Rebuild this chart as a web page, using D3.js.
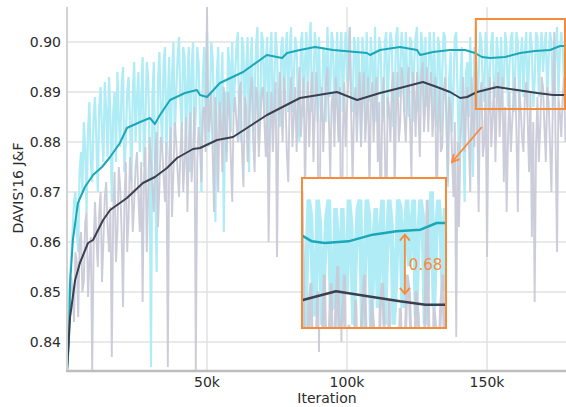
<!DOCTYPE html>
<html>
<head>
<meta charset="utf-8">
<style>
  body { margin: 0; background: #fff; }
  text { font-family: "DejaVu Sans", Verdana, sans-serif; fill: #2b2b2b; }
  .grid line { stroke: #e2e2e2; stroke-width: 1.5px; }
  .raw { fill: none; stroke-linejoin: bevel; }
  .smooth { fill: none; stroke-width: 2px; stroke-linejoin: round; }
</style>
</head>
<body>
<div id="chart"></div>
<script src="https://cdn.jsdelivr.net/npm/d3@7"></script>
<script>
// raw evaluation scores at every 1k iterations (0k .. 178k)
var cyanRaw = [
  .834,.852,.862,.870,.858,.878,.884,.866,.888,.872,
  .889,.870,.891,.876,.886,.893,.868,.890,.894,.879,
  .895,.880,.893,.872,.896,.889,.878,.897,.884,.893,
  .835,.896,.854,.898,.879,.899,.888,.875,.900,.890,
  .901,.882,.897,.892,.874,.900,.886,.896,.870,.899,
  .902,.884,.897,.864,.899,.890,.862,.878,.896,.900,
  .893,.902,.880,.899,.895,.874,.901,.890,.903,.885,
  .900,.896,.879,.902,.891,.898,.883,.901,.897,.886,
  .903,.893,.899,.880,.902,.896,.888,.904,.890,.899,
  .901,.884,.898,.903,.889,.900,.895,.881,.902,.897,
  .892,.903,.886,.899,.901,.880,.897,.902,.888,.896,
  .903,.891,.899,.884,.902,.896,.900,.887,.903,.894,
  .898,.902,.885,.900,.896,.903,.889,.899,.901,.892,
  .897,.902,.883,.899,.894,.901,.871,.898,.890,.902,
  .876,.899,.868,.896,.901,.873,.897,.893,.900,.888,
  .899,.894,.902,.889,.897,.901,.891,.899,.895,.902,
  .893,.900,.897,.889,.902,.896,.899,.892,.901,.898,
  .894,.902,.897,.900,.891,.903,.898,.899,.901
];
// raw scores at the half steps (0.5k .. 177.5k)
var cyanRawMid = [
  .848,.857,.868,.862,.874,.870,.879,.882,.876,.885,
  .880,.887,.882,.892,.877,.885,.886,.876,.885,.891,
  .874,.890,.884,.890,.880,.894,.889,.875,.896,.878,
  .889,.873,.892,.886,.896,.877,.897,.893,.881,.897,
  .888,.899,.879,.899,.895,.880,.899,.884,.893,.885,
  .879,.900,.887,.893,.881,.898,.890,.899,.882,.886,
  .899,.884,.901,.883,.901,.896,.882,.899,.880,.902,
  .885,.901,.897,.884,.902,.885,.899,.887,.902,.898,
  .886,.901,.886,.900,.885,.902,.899,.886,.902,.884,
  .887,.899,.884,.893,.902,.884,.902,.898,.886,.902,
  .900,.887,.901,.885,.891,.901,.884,.893,.901,.884,
  .884,.901,.886,.900,.885,.902,.883,.901,.889,.902,
  .886,.893,.901,.884,.901,.886,.902,.885,.887,.902,
  .885,.892,.901,.882,.902,.886,.893,.882,.901,.889,
  .892,.881,.894,.885,.889,.899,.882,.902,.891,.902,
  .887,.900,.889,.901,.886,.893,.902,.887,.901,.886,
  .902,.886,.901,.898,.887,.902,.887,.902,.889,.902,
  .899,.888,.902,.887,.899,.889,.902,.891
];
var grayRaw = [
  .834,.846,.850,.858,.845,.862,.852,.866,.856,.834,
  .868,.855,.870,.860,.872,.858,.837,.874,.862,.871,
  .847,.876,.865,.873,.868,.878,.862,.848,.879,.870,
  .876,.866,.882,.871,.879,.868,.835,.883,.874,.880,
  .869,.884,.876,.866,.886,.878,.834,.883,.872,.887,
  .907,.885,.878,.889,.870,.884,.891,.876,.887,.868,
  .889,.880,.892,.871,.887,.883,.893,.874,.889,.884,
  .891,.877,.860,.890,.886,.857,.894,.880,.889,.872,
  .893,.885,.878,.895,.887,.870,.892,.889,.876,.894,
  .838,.891,.886,.895,.873,.890,.893,.880,.840,.892,
  .887,.903,.872,.891,.888,.879,.894,.885,.869,.892,
  .889,.876,.862,.893,.860,.887,.891,.870,.894,.884,
  .892,.880,.895,.873,.890,.894,.877,.896,.888,.882,
  .894,.886,.862,.891,.879,.893,.872,.887,.869,.841,
  .863,.886,.878,.891,.870,.884,.903,.866,.892,.880,
  .857,.893,.885,.876,.894,.888,.872,.866,.890,.884,
  .893,.866,.887,.878,.892,.874,.861,.848,.889,.883,
  .891,.876,.888,.870,.902,.858,.886,.889,.880
];
var grayRawMid = [
  .841,.853,.844,.856,.860,.850,.864,.849,.861,.859,
  .861,.866,.852,.869,.863,.867,.866,.856,.875,.862,
  .868,.858,.877,.862,.875,.869,.876,.873,.858,.881,
  .871,.878,.863,.881,.873,.880,.877,.865,.884,.874,
  .878,.870,.885,.879,.872,.887,.876,.880,.886,.878,
  .882,.890,.866,.882,.888,.874,.883,.890,.877,.886,
  .884,.890,.878,.889,.876,.890,.880,.891,.877,.890,
  .884,.890,.882,.878,.892,.883,.887,.893,.878,.888,
  .879,.891,.888,.881,.893,.886,.879,.894,.886,.887,
  .884,.878,.892,.885,.888,.879,.887,.891,.881,.879,
  .893,.885,.887,.880,.894,.889,.880,.893,.887,.880,
  .893,.888,.884,.879,.889,.880,.894,.886,.880,.895,
  .885,.891,.884,.894,.881,.886,.893,.882,.895,.890,
  .881,.893,.884,.878,.890,.884,.889,.878,.884,.880,
  .880,.893,.887,.880,.893,.879,.885,.889,.877,.891,
  .885,.879,.892,.888,.881,.893,.887,.881,.878,.889,
  .882,.890,.881,.889,.885,.890,.884,.879,.876,.893,
  .883,.891,.879,.888,.879,.889,.881,.893
];

// smoothed curves (iteration in k, value)
var cyanSmoothIter = [0,0.7,1.1,2.1,3.9,6.4,9.3,12.5,15.4,18.9,21.4,26.1,29.6,31.4,33.2,36.8,42.1,46.4,47.5,50,54.6,62.9,71.4,76.8,78.6,83.2,88.6,95,107.1,108.2,111.8,118.9,125,126.1,130.7,136.8,142.1,145.7,148.2,151.1,156.4,161.8,167.1,172.5,176.1,178.2];
var cyanSmooth = [.834,.840,.8518,.8604,.8678,.871,.8734,.875,.877,.8798,.8828,.884,.8848,.8836,.8854,.8884,.8898,.8904,.8894,.889,.8918,.894,.8974,.8968,.8978,.8984,.899,.8984,.8978,.8974,.8984,.899,.8984,.8974,.898,.8984,.8984,.8978,.897,.8968,.897,.8978,.8982,.8984,.8992,.8992];
var graySmoothIter = [0,1.1,2.9,4.6,7.5,9.3,12.9,15.4,21.4,27.1,31.4,35.7,39.3,45,47.5,53.6,59.3,71.4,83.2,96.4,103.6,111.8,118.9,127.1,132.1,136.8,140.4,142.9,146.4,153.6,160.7,167.9,173.6,178.2];
var graySmooth = [.8344,.845,.8524,.8558,.8598,.8604,.8644,.8664,.8688,.8718,.873,.8748,.8768,.8786,.8788,.8804,.881,.8854,.8888,.89,.8884,.8898,.8908,.892,.891,.89,.8888,.889,.89,.891,.8904,.8898,.8894,.8894];

var yTicks = [0.84, 0.85, 0.86, 0.87, 0.88, 0.89, 0.90];
var xTicks = [50000, 100000, 150000];
var xTickLabels = ["50k", "100k", "150k"];

// zoomed region and the gap annotation
var zoomIter = [146000, 178200];
var zoomValue = [0.8866, 0.9046];
var gapIter = 169000, gapValues = [0.8978, 0.8907], gapLabel = "0.68";

var width = 566, height = 407;
var cyanLight = "#b0ecf5", cyanDark = "#1aa7b7", grayLight = "#c8c9d7", grayDark = "#3b4050", orange = "#f68b3a";

// interleave whole and half steps into one run
function merge(whole, mid) {
  var out = [];
  whole.forEach(function(v, i){
    out.push([i * 1000, v]);
    if (i < mid.length) out.push([i * 1000 + 500, mid[i]]);
  });
  return out;
}
var cyanRun = merge(cyanRaw, cyanRawMid);
var grayRun = merge(grayRaw, grayRawMid);

var x = d3.scaleLinear().domain([0, 178200]).range([67, 566]);
var y = d3.scaleLinear().domain([0.8344, 0.907]).range([370, 7]);

var svg = d3.select("#chart").append("svg")
    .attr("width", width)
    .attr("height", height);

var defs = svg.append("defs");
defs.append("clipPath").attr("id", "plotClip").append("rect")
    .attr("x", 67).attr("y", 7).attr("width", 499).attr("height", 363);

// grid
var grid = svg.append("g").attr("class", "grid");
grid.selectAll(".gy").data(yTicks).enter().append("line")
    .attr("x1", 67).attr("x2", 566)
    .attr("y1", function(d){ return y(d); }).attr("y2", function(d){ return y(d); });
grid.selectAll(".gx").data(xTicks).enter().append("line")
    .attr("x1", function(d){ return x(d); }).attr("x2", function(d){ return x(d); })
    .attr("y1", 7).attr("y2", 370);

function drawSeries(g, xs, ys, rawWidth) {
  var rawLine = d3.line()
      .x(function(d){ return xs(d[0]); })
      .y(function(d){ return ys(d[1]); });
  var smoothLine = function(iters, vals) {
    return d3.line()
      .x(function(d, i){ return xs(iters[i] * 1000); })
      .y(function(d){ return ys(d); })(vals);
  };
  g.append("path").attr("class", "raw").attr("stroke", cyanLight)
      .style("stroke-width", rawWidth[0] + "px").attr("d", rawLine(cyanRun));
  g.append("path").attr("class", "raw").attr("stroke", grayLight).attr("opacity", 0.92)
      .style("stroke-width", rawWidth[1] + "px").attr("d", rawLine(grayRun));
  g.append("path").attr("class", "smooth").attr("stroke", cyanDark).attr("d", smoothLine(cyanSmoothIter, cyanSmooth));
  g.append("path").attr("class", "smooth").attr("stroke", grayDark).attr("d", smoothLine(graySmoothIter, graySmooth));
}

var plot = svg.append("g").attr("clip-path", "url(#plotClip)");
drawSeries(plot, x, y, [2.2, 1.9]);

// axes lines
svg.append("line").attr("x1", 67).attr("x2", 67).attr("y1", 7).attr("y2", 371)
    .attr("stroke", "#d2d2d2").attr("stroke-width", 2);
svg.append("line").attr("x1", 66).attr("x2", 566).attr("y1", 371).attr("y2", 371)
    .attr("stroke", "#bdbdbd").attr("stroke-width", 2.5);

// tick labels
svg.selectAll(".yl").data(yTicks).enter().append("text")
    .attr("x", 61).attr("y", function(d){ return y(d) + 5; })
    .attr("text-anchor", "end").style("font-size", "14px")
    .text(function(d){ return d3.format(".2f")(d); });
svg.selectAll(".xl").data(xTicks).enter().append("text")
    .attr("x", function(d){ return x(d); }).attr("y", 387)
    .attr("text-anchor", "middle").style("font-size", "14px")
    .text(function(d, i){ return xTickLabels[i]; });
svg.append("text").attr("x", 327).attr("y", 403)
    .attr("text-anchor", "middle").style("font-size", "14px").text("Iteration");
svg.append("text").attr("transform", "translate(23,188) rotate(-90)")
    .attr("text-anchor", "middle").style("font-size", "14px").text("DAVIS'16 J&F");

// source box
var bx0 = x(zoomIter[0]), bx1 = x(zoomIter[1]), by0 = y(zoomValue[1]), by1 = y(zoomValue[0]);
svg.append("rect").attr("x", bx0).attr("y", by0).attr("width", bx1 - bx0 - 1).attr("height", by1 - by0)
    .attr("fill", "none").attr("stroke", orange).attr("stroke-width", 2);

// inset
var inset = { x: 302, y: 178, w: 144, h: 150 };
var xi = d3.scaleLinear().domain(zoomIter).range([inset.x, inset.x + inset.w]);
var yi = d3.scaleLinear().domain(zoomValue).range([inset.y + inset.h, inset.y]);
defs.append("clipPath").attr("id", "insetClip").append("rect")
    .attr("x", inset.x).attr("y", inset.y).attr("width", inset.w).attr("height", inset.h);
svg.append("rect").attr("x", inset.x).attr("y", inset.y).attr("width", inset.w).attr("height", inset.h)
    .attr("fill", "#fff");
var ig = svg.append("g").attr("clip-path", "url(#insetClip)");
drawSeries(ig, xi, yi, [4.6, 3]);
ig.selectAll(".smooth").style("stroke-width", "2.5px");
svg.append("rect").attr("x", inset.x).attr("y", inset.y).attr("width", inset.w).attr("height", inset.h)
    .attr("fill", "none").attr("stroke", orange).attr("stroke-width", 2);

// gap arrow
var ax = xi(gapIter), ay0 = yi(gapValues[0]), ay1 = yi(gapValues[1]);
var ann = svg.append("g").attr("stroke", orange).attr("stroke-width", 1.8).attr("fill", "none");
ann.append("line").attr("x1", ax).attr("x2", ax).attr("y1", ay0).attr("y2", ay1);
ann.append("path").attr("d", "M" + (ax - 5) + "," + (ay0 + 6) + "L" + ax + "," + ay0 + "L" + (ax + 5) + "," + (ay0 + 6));
ann.append("path").attr("d", "M" + (ax - 5) + "," + (ay1 - 6) + "L" + ax + "," + ay1 + "L" + (ax + 5) + "," + (ay1 - 6));
svg.append("text").attr("x", ax + 4).attr("y", (ay0 + ay1) / 2 + 6)
    .style("font-size", "15px").style("fill", orange).text(gapLabel);

// pointer from box to inset
var p0 = [bx0 + 6, by1 + 18], p1 = [inset.x + inset.w + 6, inset.y - 16];
var ang = Math.atan2(p1[1] - p0[1], p1[0] - p0[0]);
var head = function(a){ return [p1[0] - 8 * Math.cos(ang + a), p1[1] - 8 * Math.sin(ang + a)]; };
ann.append("line").attr("x1", p0[0]).attr("y1", p0[1]).attr("x2", p1[0]).attr("y2", p1[1]);
ann.append("path").attr("d", "M" + head(0.5) + "L" + p1 + "L" + head(-0.5));
</script>
</body>
</html>
